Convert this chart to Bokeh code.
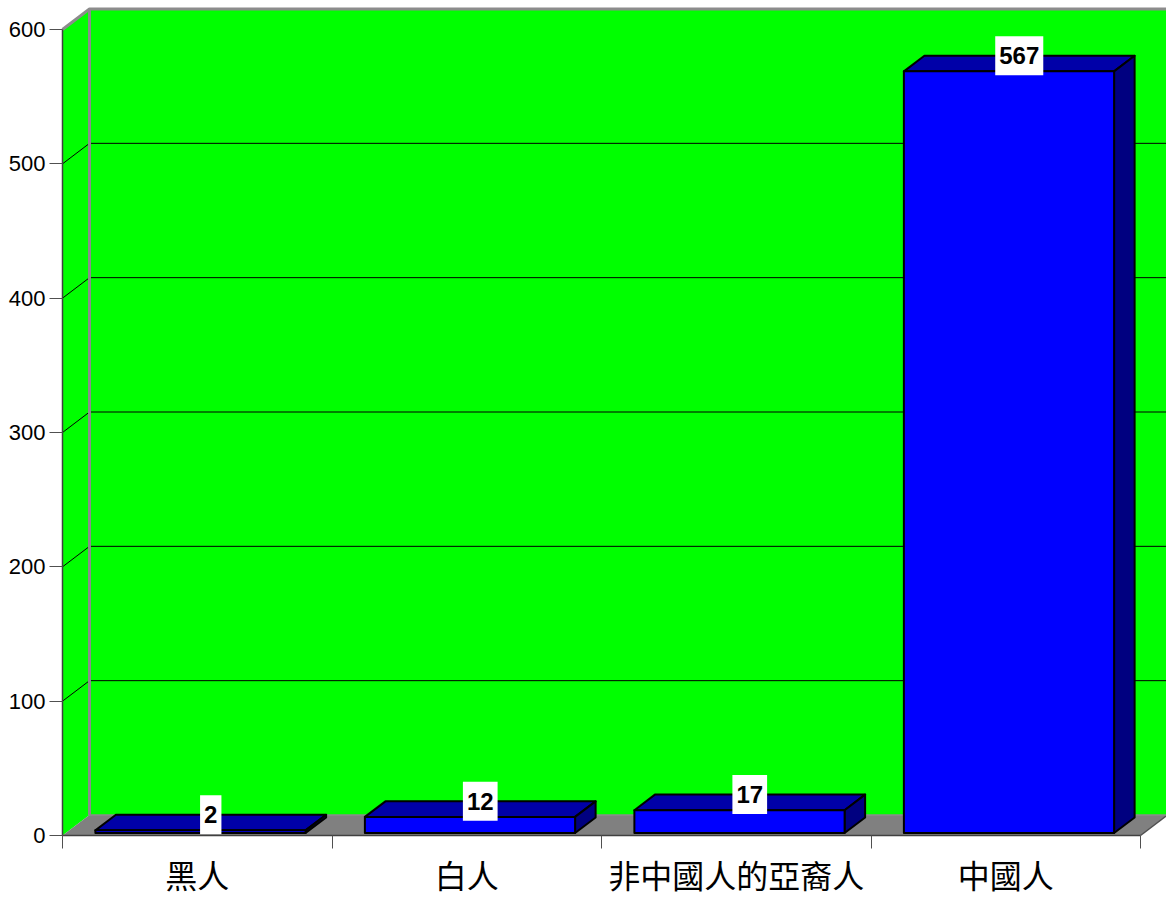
from bokeh.plotting import figure
from bokeh.models import Range1d, LinearAxis, FixedTicker
from bokeh.core.properties import value
from bokeh.embed import file_html
from bokeh.resources import INLINE

# ---- data ----
categories = ["黑人", "白人", "非中國人的亞裔人", "中國人"]
counts = [2, 12, 17, 567]
y_ticks = [0, 100, 200, 300, 400, 500, 600]

# ---- geometry (data units) ----
W, H = 1166, 899
px_x = 269.5           # px per category
px_y = 806 / 600.0     # px per count
x0 = -62 / px_x
x1 = x0 + W / px_x
y1 = 835 / px_y
y0 = y1 - H / px_y
DX = 27 / px_x         # depth offset
DY = 20.5 / px_y
FRONT, BACK = 0.12, 0.88
BAR_L, BAR_R = 0.11, 0.89
n = len(categories)
ymax = y_ticks[-1]

p = figure(width=W, height=H, x_range=Range1d(x0, x1), y_range=Range1d(y0, y1),
           output_backend="svg", toolbar_location=None,
           x_axis_location=None, y_axis_location=None,
           min_border=0, outline_line_color=None,
           background_fill_color="white", border_fill_color="white")
p.xgrid.visible = False
p.ygrid.visible = False

green = "#00FF00"
wall_gray = "#8C8C8C"

# back wall
xr = x1 + 0.1
p.patch([DX, xr, xr, DX], [DY, DY, ymax + DY, ymax + DY], fill_color=green, line_color=None)
# left wall
p.patch([0, 0, DX, DX], [0, ymax, ymax + DY, DY], fill_color=green, line_color=None)
# floor
p.patch([0, n, n + DX, xr, xr, DX], [0, 0, DY, DY, DY, DY], fill_color="#808080", line_color=None)
p.line([n, n + DX], [0, DY], line_color="#505050", line_width=1.5)

# gridlines
for v in y_ticks[1:-1]:
    p.line([0, DX, xr], [v, v + DY, v + DY], line_color="black", line_width=1)
# wall edges
p.line([0, DX, xr], [ymax, ymax + DY, ymax + DY], line_color=wall_gray, line_width=3)
p.line([DX, DX], [DY, ymax + DY], line_color=wall_gray, line_width=3)
p.line([DX, xr], [DY, DY], line_color=wall_gray, line_width=1.5)

# bars
fx, fy = FRONT * DX, FRONT * DY
bx, by = BACK * DX, BACK * DY
for i, v in enumerate(counts):
    l, r = i + BAR_L, i + BAR_R
    # top face
    p.patch([l + fx, r + fx, r + bx, l + bx], [v + fy, v + fy, v + by, v + by],
            fill_color="#0000A8", line_color="black", line_width=2, line_join="round")
    # side face
    p.patch([r + fx, r + bx, r + bx, r + fx], [fy, by, v + by, v + fy],
            fill_color="#000080", line_color="black", line_width=2, line_join="round")
    # front face
    p.patch([l + fx, r + fx, r + fx, l + fx], [fy, fy, v + fy, v + fy],
            fill_color="#0000FF", line_color="black", line_width=2, line_join="round")

# data labels
lab_x = [i + 0.5 + (fx + bx) / 2 for i in range(n)]
lab_y = [v + by for v in counts]
p.text(x=lab_x, y=lab_y, text=[str(v) for v in counts],
       text_font=value("Liberation Sans"),
       text_font_style="bold", text_font_size="24px", text_color="black",
       text_align="center", text_baseline="middle",
       background_fill_color="white", padding=dict(x=4, y=11))

# y axis
yax = LinearAxis(fixed_location=0, bounds=(0, ymax), ticker=FixedTicker(ticks=y_ticks, minor_ticks=[]))
yax.axis_line_color = "#404040"
yax.axis_line_width = 1.5
yax.major_tick_line_color = "#505050"
yax.major_tick_out = 13
yax.major_tick_in = 0
yax.minor_tick_out = 0
yax.minor_tick_in = 0
yax.major_label_standoff = 4
yax.major_label_text_font = "Liberation Sans"
yax.major_label_text_font_size = "22px"
yax.major_label_text_color = "black"
p.add_layout(yax, "left")

# x axis: ticks at category boundaries
xax = LinearAxis(fixed_location=0, bounds=(0, n), ticker=FixedTicker(ticks=list(range(n + 1)), minor_ticks=[]))
xax.axis_line_color = "#404040"
xax.axis_line_width = 1.5
xax.major_tick_line_color = "#505050"
xax.major_tick_out = 13
xax.major_tick_in = 0
xax.minor_tick_out = 0
xax.minor_tick_in = 0
xax.major_label_text_font_size = "0px"
xax.major_label_overrides = {i: "" for i in range(n + 1)}
p.add_layout(xax, "below")

# x axis: category names at centres
centers = [i + 0.5 for i in range(n)]
cax = LinearAxis(fixed_location=0, ticker=FixedTicker(ticks=centers, minor_ticks=[]))
cax.axis_line_color = None
cax.major_tick_line_color = None
cax.major_tick_out = 0
cax.major_tick_in = 0
cax.minor_tick_out = 0
cax.minor_tick_in = 0
cax.major_label_overrides = {c: name for c, name in zip(centers, categories)}
cax.major_label_standoff = 15
cax.major_label_text_font = "Noto Sans CJK TC"
cax.major_label_text_font_size = "32px"
cax.major_label_text_color = "black"
p.add_layout(cax, "below")

open("out.html", "w").write(file_html(p, INLINE))
